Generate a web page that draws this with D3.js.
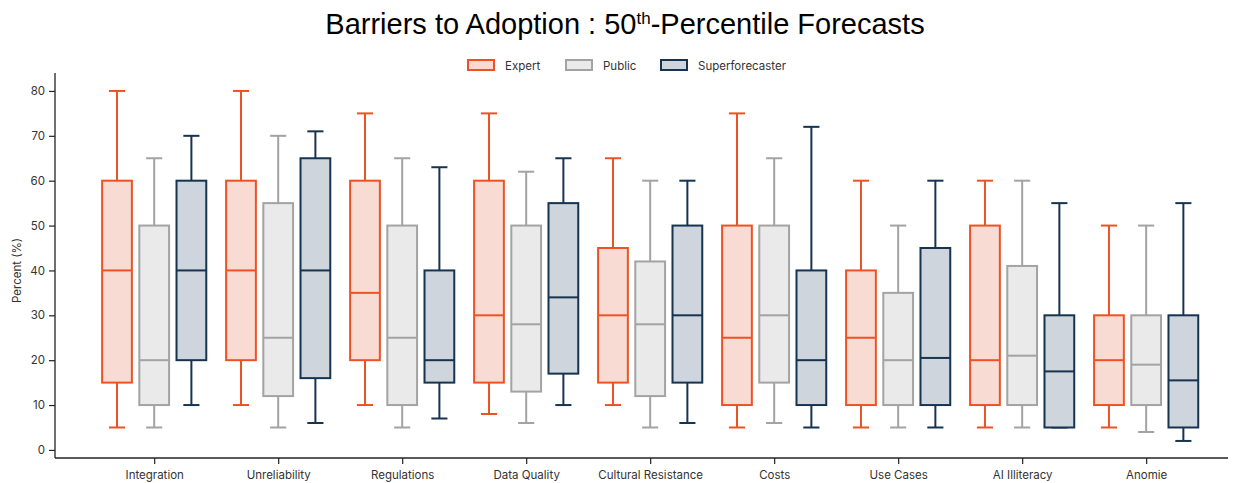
<!DOCTYPE html>
<html>
<head>
<meta charset="utf-8">
<script src="https://cdn.jsdelivr.net/npm/d3@7"></script>
<style>
  html, body { margin: 0; padding: 0; background: #fff; }
  svg { display: block; }
</style>
</head>
<body>
<svg id="chart" width="1242" height="483"></svg>
<script>
const categories = ["Integration", "Unreliability", "Regulations", "Data Quality", "Cultural Resistance", "Costs", "Use Cases", "AI Illiteracy", "Anomie"];
const groups = ["Expert", "Public", "Superforecaster"];
// each entry: [whiskerLow, q1, median, q3, whiskerHigh]
const expertStats = [
  [5, 15, 40, 60, 80],
  [10, 20, 40, 60, 80],
  [10, 20, 35, 60, 75],
  [8, 15, 30, 60, 75],
  [10, 15, 30, 45, 65],
  [5, 10, 25, 50, 75],
  [5, 10, 25, 40, 60],
  [5, 10, 20, 50, 60],
  [5, 10, 20, 30, 50]
];
const publicStats = [
  [5, 10, 20, 50, 65],
  [5, 12, 25, 55, 70],
  [5, 10, 25, 50, 65],
  [6, 13, 28, 50, 62],
  [5, 12, 28, 42, 60],
  [6, 15, 30, 50, 65],
  [5, 10, 20, 35, 50],
  [5, 10, 21, 41, 60],
  [4, 10, 19, 30, 50]
];
const superStats = [
  [10, 20, 40, 60, 70],
  [6, 16, 40, 65, 71],
  [7, 15, 20, 40, 63],
  [10, 17, 34, 55, 65],
  [6, 15, 30, 50, 60],
  [5, 10, 20, 40, 72],
  [5, 10, 20.5, 45, 60],
  [5, 5, 17.5, 30, 55],
  [2, 5, 15.5, 30, 55]
];
const yTicks = [0, 10, 20, 30, 40, 50, 60, 70, 80];

const seriesStats = [expertStats, publicStats, superStats];
const strokes = ["#EE5223", "#A3A3A3", "#16334F"];
const fills = ["#F8DCD3", "#EAEAEA", "#CFD5DC"];

(function draw() {
const svg = d3.select("#chart");
const pLeft = 55, pRight = 1228, pTop = 73, pBottom = 458;

const x = d3.scaleLinear().domain([-0.8, 8.66]).range([pLeft, pRight]);
const y = d3.scaleLinear().domain([-1.8, 84.0]).range([pBottom, pTop]);
const offset = d3.scaleOrdinal().domain(groups).range([-0.3, 0, 0.3]);
const boxW = x(0.24) - x(0);
const capW = x(0.13) - x(0);

// Title
const title = svg.append("text")
  .attr("x", 625).attr("y", 34)
  .attr("text-anchor", "middle")
  .style("font-family", "'Liberation Sans', Arial, sans-serif")
  .style("font-size", "29px")
  .attr("fill", "#000");
title.append("tspan").text("Barriers to Adoption : 50");
title.append("tspan").attr("dy", -10).style("font-size", "17px").text("th");
title.append("tspan").attr("dy", 10).text("-Percentile Forecasts");

// Axes
const yAxis = d3.axisLeft(y).tickValues(yTicks).tickSize(6).tickPadding(4);
const gy = svg.append("g").attr("transform", `translate(${pLeft},0)`).call(yAxis);
gy.select(".domain").attr("d", `M0,${pTop}V${pBottom}`).attr("stroke", "#222").attr("stroke-width", 1.3);
gy.selectAll(".tick line").attr("stroke", "#222").attr("stroke-width", 1.2);
gy.selectAll(".tick text").style("font-family", "Inter, 'DejaVu Sans', sans-serif").style("font-size", "11.5px").attr("fill", "#333");

const xAxis = d3.axisBottom(x).tickValues(d3.range(categories.length)).tickFormat(i => categories[i]).tickSize(6).tickPadding(7);
const gx = svg.append("g").attr("transform", `translate(0,${pBottom})`).call(xAxis);
gx.select(".domain").attr("d", `M${pLeft},0H${pRight}`).attr("stroke", "#222").attr("stroke-width", 1.3);
gx.selectAll(".tick line").attr("stroke", "#222").attr("stroke-width", 1.2);
gx.selectAll(".tick text").style("font-family", "Inter, 'DejaVu Sans', sans-serif").style("font-size", "11.5px").attr("fill", "#333");

// Y label
svg.append("text")
  .attr("transform", `translate(21,${(pTop + pBottom) / 2 + 5}) rotate(-90)`)
  .attr("text-anchor", "middle")
  .style("font-family", "Inter, 'DejaVu Sans', sans-serif")
  .style("font-size", "11.5px")
  .attr("fill", "#333")
  .text("Percent (%)");

// Boxes
groups.forEach((g, gi) => {
  const stats = seriesStats[gi];
  const layer = svg.append("g").attr("class", "series-" + gi);
  stats.forEach((s, ci) => {
    const cx = x(ci + offset(g));
    const [lo, q1, med, q3, hi] = s;
    const bg = layer.append("g");
    bg.append("line").attr("x1", cx).attr("x2", cx).attr("y1", y(q3)).attr("y2", y(hi))
      .attr("stroke", strokes[gi]).attr("stroke-width", 2);
    bg.append("line").attr("x1", cx).attr("x2", cx).attr("y1", y(q1)).attr("y2", y(lo))
      .attr("stroke", strokes[gi]).attr("stroke-width", 2);
    bg.append("line").attr("x1", cx - capW / 2).attr("x2", cx + capW / 2).attr("y1", y(hi)).attr("y2", y(hi))
      .attr("stroke", strokes[gi]).attr("stroke-width", 2);
    bg.append("line").attr("x1", cx - capW / 2).attr("x2", cx + capW / 2).attr("y1", y(lo)).attr("y2", y(lo))
      .attr("stroke", strokes[gi]).attr("stroke-width", 2);
    bg.append("rect").attr("x", cx - boxW / 2).attr("width", boxW)
      .attr("y", y(q3)).attr("height", y(q1) - y(q3))
      .attr("fill", fills[gi]).attr("stroke", strokes[gi]).attr("stroke-width", 2);
    bg.append("line").attr("x1", cx - boxW / 2).attr("x2", cx + boxW / 2).attr("y1", y(med)).attr("y2", y(med))
      .attr("stroke", strokes[gi]).attr("stroke-width", 2);
  });
});

// Legend
const legendX = [468, 566, 661];
groups.forEach((g, gi) => {
  const lg = svg.append("g").attr("transform", `translate(${legendX[gi]},60)`);
  lg.append("rect").attr("x", 0).attr("y", 0).attr("width", 26).attr("height", 10)
    .attr("fill", fills[gi]).attr("stroke", strokes[gi]).attr("stroke-width", 2);
  lg.append("text").attr("x", 37).attr("y", 10)
    .style("font-family", "Inter, 'DejaVu Sans', sans-serif")
    .style("font-size", "11.5px")
    .attr("fill", "#333")
    .text(g);
});
})();
</script>
</body>
</html>
